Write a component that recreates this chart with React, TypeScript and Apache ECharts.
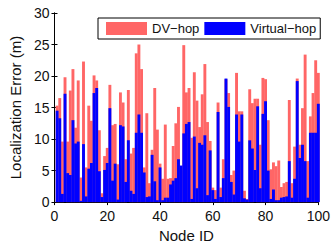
import React, { useEffect, useRef } from "react";
import * as echarts from "echarts";

const nodeIds: number[] = Array.from({ length: 100 }, (_, i) => i + 1);

const dvHop: number[] = [
  15.3, 16.5, 9.6, 19.8, 9.6, 17.7, 21.1, 11.8, 19.3, 3.9,
  22.3, 5.5, 15.3, 12.9, 20.1, 19.3, 11.4, 1.4, 7.3, 8.6,
  18.6, 12.2, 12.4, 6.0, 17.4, 15.8, 6.8, 17.8, 7.7, 8.6,
  23.6, 25.0, 21.1, 5.5, 14.1, 3.0, 8.3, 18.1, 11.5, 6.1,
  3.7, 12.3, 3.7, 3.8, 8.9, 12.5, 15.1, 5.0, 24.9, 17.4,
  18.1, 10.2, 20.6, 16.1, 11.9, 17.1, 21.9, 12.7, 9.7, 2.3,
  1.9, 15.8, 2.3, 6.8, 19.5, 17.3, 4.3, 5.0, 20.5, 14.4,
  14.4, 1.8, 0.5, 17.9, 15.7, 16.4, 16.4, 9.1, 19.7, 19.5,
  13.0, 5.2, 6.3, 5.7, 6.6, 2.4, 3.0, 3.2, 16.2, 3.0,
  8.8, 19.6, 9.1, 14.9, 23.4, 6.5, 13.6, 17.3, 22.5, 20.5,
];

const virtualHop: number[] = [
  14.5, 13.3, 1.3, 17.2, 4.6, 4.3, 13.0, 9.3, 9.6, 0.2,
  9.2, 0.9, 5.3, 6.2, 17.3, 18.1, 4.9, 0.8, 5.1, 6.2,
  14.9, 3.4, 6.1, 0.4, 12.2, 12.0, 3.2, 9.8, 1.8, 1.3,
  11.0, 13.9, 11.0, 4.7, 0.8, 0.9, 7.5, 3.3, 0.3, 5.5,
  0.3, 0.7, 0.7, 2.8, 3.4, 3.8, 6.8, 5.8, 10.9, 12.4,
  12.7, 0.5, 10.4, 2.2, 9.4, 9.1, 10.6, 1.1, 8.2, 1.9,
  0.5, 14.3, 0.8, 3.8, 19.6, 15.1, 3.2, 1.2, 13.9, 9.6,
  13.9, 0.6, 0.4, 9.8, 8.5, 5.1, 15.2, 2.2, 14.0, 16.0,
  5.0, 0.5, 2.0, 0.3, 0.3, 0.7, 0.8, 0.9, 6.5, 0.7,
  3.7, 19.2, 7.0, 9.1, 6.5, 0.7, 11.0, 11.0, 11.0, 15.6,
];

const xTicks = { min: 0, max: 100, interval: 20 };
const yTicks = { min: 0, max: 30, interval: 5 };

const FONT = "'Liberation Sans', Arial, Helvetica, sans-serif";

export default function App() {
  const ref = useRef<HTMLDivElement>(null);
  useEffect(() => {
    if (!ref.current) return;
    const chart = echarts.init(ref.current, undefined, { renderer: "svg" });
    const tickCommon = {
      axisLine: { show: true, lineStyle: { color: "#000", width: 1 } },
      axisTick: { show: true, inside: true, length: 3, lineStyle: { color: "#000" } },
      splitLine: { show: false },
    };
    chart.setOption({
      animation: false,
      backgroundColor: "#fff",
      textStyle: { fontFamily: FONT },
      grid: { left: 49, right: 11, top: 13, bottom: 37, containLabel: false },
      legend: {
        left: 98,
        top: 18,
        orient: "horizontal",
        backgroundColor: "#fff",
        borderColor: "#000",
        borderWidth: 1,
        borderRadius: 0,
        padding: [4, 4, 4, 8],
        itemGap: 5,
        itemWidth: 41,
        itemHeight: 13,
        icon: "rect",
        textStyle: { fontSize: 13, color: "#111", fontFamily: FONT },
        data: ["DV\u2212hop", "Virtual\u2212hop"],
      },
      xAxis: [
        {
          type: "value",
          position: "bottom",
          ...xTicks,
          name: "Node ID",
          nameLocation: "middle",
          nameGap: 23,
          nameTextStyle: { fontSize: 15, color: "#111", fontFamily: FONT },
          axisLabel: { fontSize: 14, color: "#111", margin: 7, fontFamily: FONT },
          ...tickCommon,
        },
        {
          type: "value",
          position: "top",
          ...xTicks,
          axisLabel: { show: false },
          ...tickCommon,
        },
      ],
      yAxis: [
        {
          type: "value",
          position: "left",
          ...yTicks,
          name: "Localization Error (m)",
          nameLocation: "middle",
          nameGap: 27,
          nameTextStyle: { fontSize: 15, color: "#111", fontFamily: FONT },
          axisLabel: { fontSize: 14, color: "#111", margin: 5, fontFamily: FONT },
          ...tickCommon,
        },
        {
          type: "value",
          position: "right",
          ...yTicks,
          axisLabel: { show: false },
          ...tickCommon,
        },
      ],
      series: [
        {
          name: "DV\u2212hop",
          type: "bar",
          xAxisIndex: 0,
          yAxisIndex: 0,
          barWidth: 2.9,
          barGap: "-100%",
          itemStyle: { color: "#FF6666" },
          data: nodeIds.map((id, i) => [id, dvHop[i]]),
        },
        {
          name: "Virtual\u2212hop",
          type: "bar",
          xAxisIndex: 0,
          yAxisIndex: 0,
          barWidth: 2.9,
          barGap: "-100%",
          itemStyle: { color: "#0000FF" },
          data: nodeIds.map((id, i) => [id, virtualHop[i]]),
        },
      ],
    });
    return () => chart.dispose();
  }, []);
  return (
    <div
      ref={ref}
      style={{ position: "absolute", left: 0, top: 0, width: 333, height: 248 }}
    />
  );
}
